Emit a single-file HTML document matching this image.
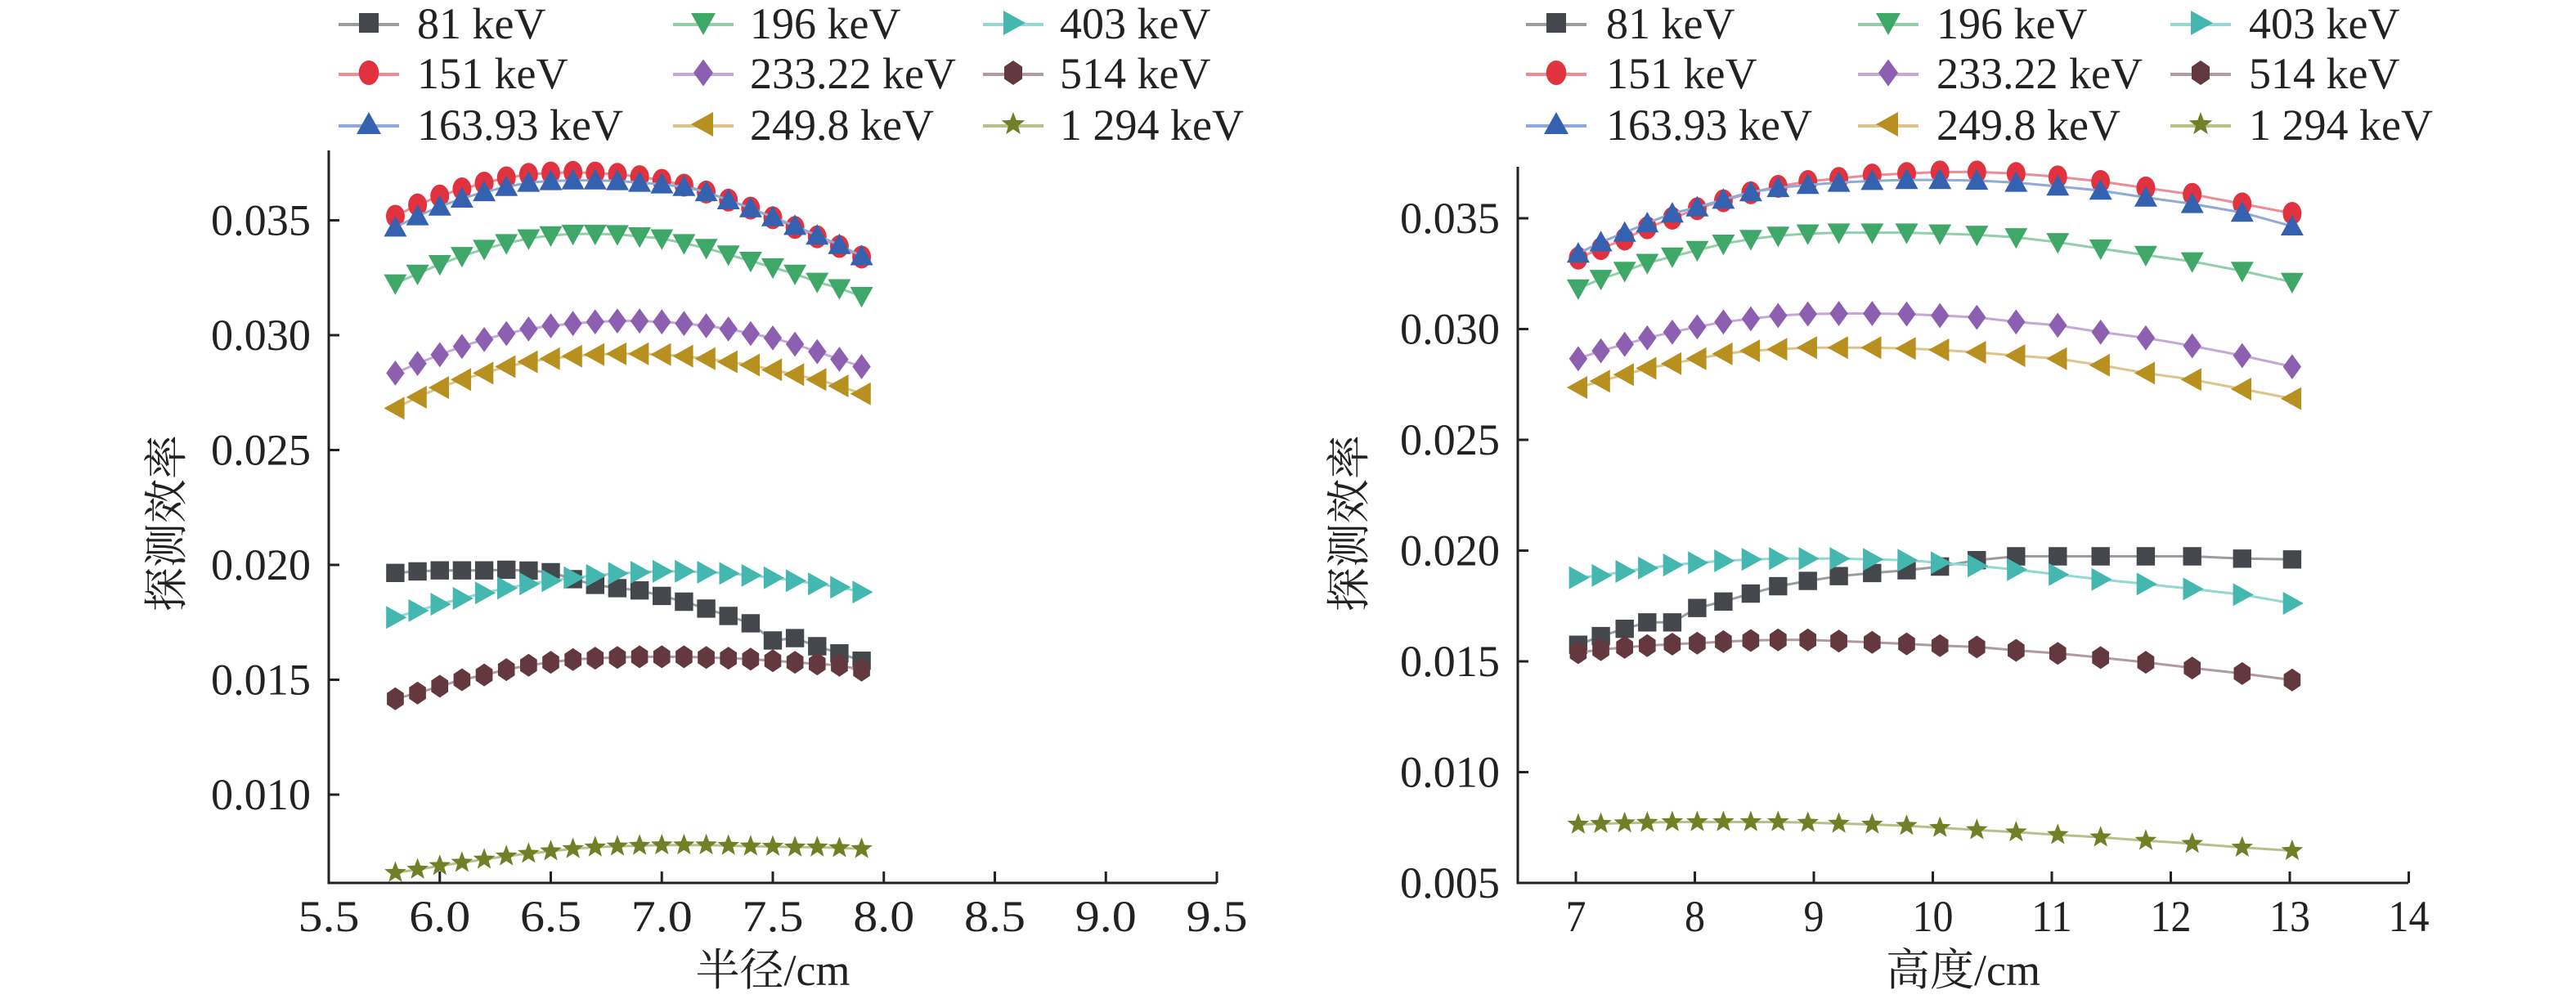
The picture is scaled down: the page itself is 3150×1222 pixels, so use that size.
<!DOCTYPE html>
<html><head><meta charset="utf-8"><style>
html,body{margin:0;padding:0;background:#fff;}
svg{display:block;}
svg text{font-family:"Liberation Serif","Tinos","Times New Roman","Noto Serif CJK SC","DejaVu Serif",serif;}
</style></head><body>
<svg id="chart" width="3150" height="1222" viewBox="0 0 3150 1222" xmlns="http://www.w3.org/2000/svg"></svg>
<script>
const seriesNames = ["81 keV","151 keV","163.93 keV","196 keV","233.22 keV","249.8 keV","403 keV","514 keV","1 294 keV"];
const radiusX = [5.8,5.9,6.0,6.1,6.2,6.3,6.4,6.5,6.6,6.7,6.8,6.9,7.0,7.1,7.2,7.3,7.4,7.5,7.6,7.7,7.8,7.9];
const heightX = [7.02,7.21,7.41,7.60,7.81,8.02,8.24,8.47,8.70,8.95,9.21,9.49,9.78,10.06,10.37,10.70,11.05,11.41,11.79,12.18,12.60,13.02];
const r81  = [0.01965,0.01972,0.01976,0.01976,0.01976,0.01979,0.01975,0.01968,0.01938,0.01913,0.01899,0.01889,0.01865,0.0184,0.0181,0.01778,0.01746,0.01671,0.01681,0.01646,0.01615,0.01583];
const r151 = [0.03518,0.03567,0.03606,0.03637,0.03662,0.03685,0.0370,0.03706,0.03709,0.03706,0.0370,0.0369,0.03674,0.03653,0.03623,0.03588,0.03553,0.03511,0.03469,0.03428,0.03386,0.0334];
const r164 = [0.03469,0.03518,0.0356,0.03595,0.03623,0.03646,0.03664,0.03671,0.03674,0.03674,0.03671,0.03664,0.03657,0.03646,0.03623,0.03588,0.03553,0.03514,0.03476,0.03434,0.03393,0.03344];
const r196 = [0.03225,0.03267,0.03309,0.03344,0.03375,0.0340,0.03421,0.03434,0.03441,0.03441,0.03439,0.0343,0.03421,0.0340,0.03379,0.03351,0.03323,0.03295,0.03267,0.03232,0.03204,0.0317];
const r233 = [0.02835,0.02877,0.02915,0.02951,0.02981,0.03007,0.03027,0.03041,0.03051,0.03058,0.03062,0.03062,0.03058,0.03051,0.03041,0.03027,0.03007,0.02988,0.02961,0.02928,0.02895,0.02863];
const r250 = [0.02682,0.0273,0.02772,0.02807,0.02835,0.02863,0.02884,0.02898,0.02909,0.02916,0.02919,0.02919,0.02916,0.02909,0.02898,0.02884,0.0287,0.02849,0.02828,0.02807,0.02779,0.02745];
const r403 = [0.01771,0.01801,0.01829,0.01854,0.01878,0.01899,0.01917,0.01931,0.01944,0.01954,0.01963,0.01968,0.01972,0.01972,0.01968,0.01963,0.01954,0.01944,0.01931,0.01917,0.01903,0.01882];
const r514 = [0.01417,0.01442,0.01472,0.015,0.01521,0.01544,0.01563,0.01576,0.01588,0.01594,0.01597,0.016,0.016,0.016,0.01597,0.01594,0.0159,0.01583,0.01576,0.01569,0.01563,0.01542];
const r1294= [0.0066,0.00674,0.0069,0.00704,0.00718,0.00732,0.00743,0.00754,0.00764,0.00771,0.00775,0.00778,0.0078,0.0078,0.0078,0.00778,0.00775,0.00774,0.00771,0.00771,0.00768,0.00764];
const h81  = [0.01575,0.01614,0.01647,0.01676,0.01676,0.01741,0.0177,0.01806,0.01839,0.01863,0.01885,0.01899,0.01911,0.01928,0.01957,0.01974,0.01974,0.01974,0.01974,0.01974,0.01964,0.0196];
const h151 = [0.0332,0.03363,0.03406,0.03457,0.035,0.03543,0.03579,0.03615,0.03644,0.03666,0.0368,0.03695,0.03702,0.03709,0.03709,0.03702,0.03687,0.03666,0.03637,0.03608,0.03565,0.03522];
const h164 = [0.03341,0.03392,0.03435,0.03478,0.03522,0.0355,0.03584,0.03618,0.03637,0.03651,0.03661,0.03669,0.03673,0.03673,0.0367,0.03661,0.03644,0.03625,0.03594,0.03565,0.03526,0.03464];
const h196 = [0.03183,0.03226,0.03262,0.03298,0.03327,0.03356,0.03385,0.03406,0.03421,0.03431,0.03435,0.03435,0.03435,0.03431,0.03425,0.03414,0.03392,0.03363,0.03334,0.03305,0.03262,0.03212];
const h233 = [0.02866,0.02902,0.02931,0.0296,0.02986,0.0301,0.03032,0.03046,0.03061,0.03068,0.0307,0.0307,0.03068,0.03061,0.03053,0.03032,0.03017,0.02986,0.0296,0.02924,0.0288,0.0283];
const h250 = [0.02736,0.02765,0.02794,0.02823,0.02844,0.02866,0.02888,0.02902,0.02909,0.02916,0.02916,0.02916,0.02912,0.02906,0.02895,0.0288,0.02866,0.02837,0.02801,0.02772,0.02729,0.02686];
const h403 = [0.01878,0.01888,0.01906,0.01921,0.01935,0.01945,0.01954,0.0196,0.01964,0.01964,0.01964,0.0196,0.01957,0.01945,0.01931,0.01914,0.01892,0.0187,0.01849,0.01827,0.01801,0.01762];
const h514 = [0.01539,0.01553,0.01563,0.01571,0.01578,0.01582,0.01589,0.01594,0.01597,0.01597,0.01592,0.01586,0.01579,0.01571,0.01565,0.0155,0.01536,0.01517,0.01496,0.0147,0.01445,0.01416];
const h1294= [0.00764,0.00767,0.0077,0.00772,0.00775,0.00775,0.00775,0.00775,0.00775,0.00772,0.00768,0.00764,0.00758,0.00749,0.00739,0.00729,0.00717,0.00706,0.00691,0.00677,0.0066,0.00645];
const leftXTicks = ["5.5","6.0","6.5","7.0","7.5","8.0","8.5","9.0","9.5"];
const leftYTicks = ["0.010","0.015","0.020","0.025","0.030","0.035"];
const rightXTicks = ["7","8","9","10","11","12","13","14"];
const rightYTicks = ["0.005","0.010","0.015","0.020","0.025","0.030","0.035"];

const NS="http://www.w3.org/2000/svg";
const svg=document.getElementById('chart');
const FONT='"Liberation Serif","Tinos","Times New Roman","Noto Serif CJK SC","DejaVu Serif",serif';
const colors=["#44474c","#e0323f","#3461b0","#3fa868","#8c5fb0","#b8901f","#44b8b0","#63383f","#727f26"];
const lineColors=["#9a9ca0","#ec8c94","#8fa9d8","#8fd0a8","#c4a8d8","#dcc48a","#94d8d2","#b29aa0","#b8c08a"];
const shapes=["square","circle","up","down","diamond","left","right","hex","star"];
function mk(tag,attrs,parent){const e=document.createElementNS(NS,tag);for(const k in attrs)e.setAttribute(k,attrs[k]);(parent||svg).appendChild(e);return e;}
function markerPath(s,x,y,r){
  const P=pts=>"M"+pts.map(p=>(x+p[0]).toFixed(1)+","+(y+p[1]).toFixed(1)).join("L")+"Z";
  switch(s){
    case "square": return P([[-r*.8,-r*.8],[r*.8,-r*.8],[r*.8,r*.8],[-r*.8,r*.8]]);
    case "up": return P([[0,-r],[r,r*.8],[-r,r*.8]]);
    case "down": return P([[0,r],[r,-r*.8],[-r,-r*.8]]);
    case "left": return P([[-r,0],[r*.8,-r],[r*.8,r]]);
    case "right": return P([[r,0],[-r*.8,-r],[-r*.8,r]]);
    case "diamond": return P([[0,-r*1.1],[r*.8,0],[0,r*1.1],[-r*.8,0]]);
    case "hex": {const a=[];for(let i=0;i<6;i++){const t=Math.PI/6+i*Math.PI/3;a.push([Math.cos(t)*r*.85,Math.sin(t)*r]);}return P(a);}
    case "star": {const a=[];for(let i=0;i<10;i++){const t=-Math.PI/2+i*Math.PI/5;const rr=i%2?r*.42:r;a.push([Math.cos(t)*rr,Math.sin(t)*rr]);}return P(a);}
  }
}
function drawMarker(g,s,x,y,r,c){
  if(s==="circle"){return mk("ellipse",{cx:x,cy:y,rx:r*.82,ry:r,fill:c},g);}
  return mk("path",{d:markerPath(s,x,y,r),fill:c},g);
}
function text(str,x,y,anchor,size,parent,len){
  const a={x:x,y:y,"text-anchor":anchor,"font-size":size,"font-family":FONT,fill:"#222"};
  if(len){a.textLength=len;a.lengthAdjust="spacingAndGlyphs";}
  const t=mk("text",a,parent);t.textContent=str;return t;}

function drawChart(cfg){
  const g=mk("g",{});
  
  
  const sx=v=>cfg.x0+(v-cfg.xv0)*cfg.xs;
  const sy=v=>cfg.y0-(v-cfg.yv0)*cfg.ys;
  const ax=mk("path",{d:`M${cfg.axX},${cfg.axTop}L${cfg.axX},${cfg.axY}L${cfg.axRight},${cfg.axY}`,stroke:"#222","stroke-width":3,fill:"none"},g);
  
  
  cfg.xTicks.forEach(t=>{const X=sx(parseFloat(t));
    mk("line",{x1:X,x2:X,y1:cfg.axY,y2:cfg.axY-14,stroke:"#222","stroke-width":3},g);
    const tl=text(t,X,1139,"middle",54,g,t.length*25);
    
    });
  cfg.yTicks.forEach(t=>{const Y=sy(parseFloat(t));
    mk("line",{x1:cfg.axX,x2:cfg.axX+13,y1:Y,y2:Y,stroke:"#222","stroke-width":3},g);
    const tl=text(t,cfg.axX-22,Y+18,"end",54,g,122);
    
    });
  const xt=text(cfg.xTitle,(cfg.axX+cfg.axRight)/2,1205,"middle",54,g);
  
  
  const yt=text("探测效率",0,0,"middle",54,g);
  yt.setAttribute('transform',`translate(${cfg.yTitleX},640) rotate(-90)`);
  
  
  cfg.series.forEach((vals,i)=>{
    const sg=mk("g",{},g);
    
    
    const d=vals.map((v,j)=>(j?"L":"M")+sx(cfg.xs_[j]).toFixed(1)+","+sy(v).toFixed(1)).join("");
    mk("path",{d:d,stroke:lineColors[i],"stroke-width":3,fill:"none"},sg);
    vals.forEach((v,j)=>{const m=drawMarker(sg,shapes[i],sx(cfg.xs_[j]),sy(v),14,colors[i]);
      
      });
  });
  const lg=mk("g",{},g);
  
  
  const rowsY=[28,89,152];
  seriesNames.forEach((n,i)=>{
    const col=Math.floor(i/3),row=i%3;
    const eg=mk("g",{},lg);
    
    
    const x1=cfg.legSym[col],y=rowsY[row];
    mk("line",{x1:x1,x2:x1+74,y1:y+2,y2:y+2,stroke:lineColors[i],"stroke-width":4},eg);
    drawMarker(eg,shapes[i],x1+37,y,15,colors[i]);
    text(n,cfg.legText[col],y+19,"start",54,eg);
  });
}
drawChart({name:"radius-chart",x0:402,xv0:5.5,xs:271.5,y0:269.5,yv0:0.035,ys:28100,
  axX:402,axTop:184,axY:1080,axRight:1488,xTicks:leftXTicks,yTicks:leftYTicks,xTitle:"半径/cm",yTitleX:222,
  xs_:radiusX,series:[r81,r151,r164,r196,r233,r250,r403,r514,r1294],
  legSym:[414,823,1202],legText:[510,917,1296]});
drawChart({name:"height-chart",x0:1927,xv0:7,xs:145.5,y0:1080,yv0:0.005,ys:27100,
  axX:1856,axTop:204,axY:1080,axRight:2945,xTicks:rightXTicks,yTicks:rightYTicks,xTitle:"高度/cm",yTitleX:1668,
  xs_:heightX,series:[h81,h151,h164,h196,h233,h250,h403,h514,h1294],
  legSym:[1866,2272,2654],legText:[1964,2368,2750]});
</script>
</body></html>
